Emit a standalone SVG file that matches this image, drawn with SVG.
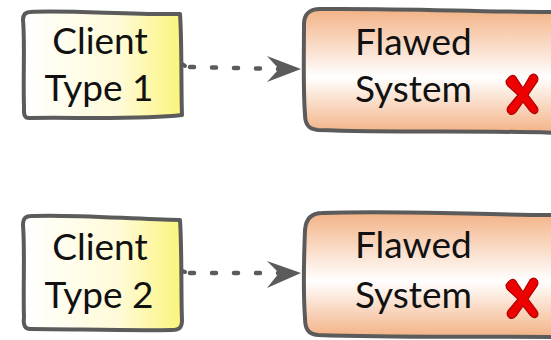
<svg xmlns="http://www.w3.org/2000/svg" width="551" height="340" viewBox="0 0 551 340">
<style>
.box{stroke:#5b5b5b;stroke-width:4;stroke-linejoin:round;stroke-linecap:round}
.client{fill:url(#gy)}
.sys{fill:url(#go)}
.t{font-family:"Linux Biolinum","Lato","Liberation Sans",sans-serif;font-size:37px;fill:#111}
.conn{fill:none;stroke:#5b5b5b;stroke-width:4.5;stroke-dasharray:4 18;stroke-linecap:round}
.head{fill:#5b5b5b}
.x{fill:#ee0000;stroke:#aa0000;stroke-width:1.2;stroke-linejoin:round}
</style>
<defs>
<linearGradient id="gy" x1="0" y1="0" x2="1" y2="0">
<stop offset="0" stop-color="#ffffff"/>
<stop offset="0.6" stop-color="#fffbd8"/>
<stop offset="1" stop-color="#fbf47a"/>
</linearGradient>
<linearGradient id="go" x1="0" y1="0" x2="0" y2="1">
<stop offset="0" stop-color="#f3b285"/>
<stop offset="0.55" stop-color="#ffffff"/>
<stop offset="1" stop-color="#f3b285"/>
</linearGradient>
<path id="xs" d="M0,8 C4,2 8,0 11,6 L17,15 L24,3 C28,-1 34,3 31,9 L22,22 L31,34 C34,40 28,43 24,38 L17,29 L10,39 C6,44 -1,40 2,34 L12,22 L2,13 C0,11 0,9 0,8 Z"/>
</defs>
<g id="connectors">
<path class="conn" d="M190,67 L280,69"/>
<path class="head" d="M301,69 L267,56 L279,69 L267,82 Z"/>
<path class="conn" d="M190,273 L280,273"/>
<path class="head" d="M301,273 L267,261 L279,273 L267,288 Z"/>
</g>
<g id="client1">
<path class="box client" d="M30,12 C70,10 130,15 180,14 C182,40 181,90 182,115 C140,120 70,117 29,118 C23,118 24,112 24,106 C23,80 25,40 23,20 C23,14 26,12 30,12 Z"/>
<path class="box" fill="none" d="M182,64 L185,66"/>
<text class="t" x="100" y="54" text-anchor="middle">Client</text>
<text class="t" x="99" y="101" text-anchor="middle">Type 1</text>
</g>
<g id="system1">
<path class="box sys" d="M320,9 C400,8 480,12 560,12 L560,133 C480,130 400,133 318,130 C308,129 305,124 305,114 C303,90 304,50 304,24 C304,14 310,9 320,9 Z"/>
<text class="t" x="355" y="55">Flawed</text>
<text class="t" x="355" y="102">System</text>
<use href="#xs" class="x" transform="translate(506,73)"/>
</g>
<g id="client2">
<path class="box client" d="M31,216 C70,214 130,219 180,220 C182,250 181,300 182,320 C182,327 180,330 172,330 C130,331 70,329 30,329 C25,329 23,325 24,318 C23,290 25,250 23,225 C23,219 25,216 31,216 Z"/>
<path class="box" fill="none" d="M182,271 L185,272"/>
<text class="t" x="100" y="260" text-anchor="middle">Client</text>
<text class="t" x="99" y="308" text-anchor="middle">Type 2</text>
</g>
<g id="system2">
<path class="box sys" d="M322,213 C400,210 480,215 560,215 L560,337 C480,336 400,338 318,335 C308,334 305,329 305,318 C303,290 304,255 305,230 C306,218 312,213 322,213 Z"/>
<text class="t" x="355" y="258">Flawed</text>
<text class="t" x="355" y="308">System</text>
<use href="#xs" class="x" transform="translate(506,277)"/>
</g>
</svg>
